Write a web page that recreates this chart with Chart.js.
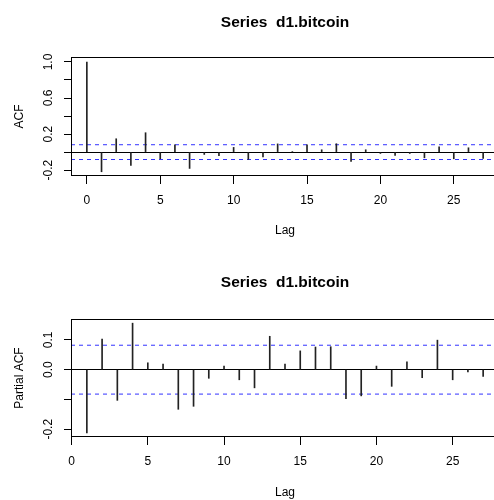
<!DOCTYPE html>
<html lang="en">
<head>
    <meta charset="UTF-8">
    <title>Series d1.bitcoin</title>
    <script src="https://cdn.jsdelivr.net/npm/chart.js@4.4.1/dist/chart.umd.min.js"></script>
    <style>
        html, body {margin: 0; padding: 0; background: #fff; overflow: hidden; width: 494px; height: 500px;}
        .panel {position: absolute; left: 0; width: 500px; height: 250px;}
    </style>
</head>
<body>
    <div class="panel" style="top:0"><canvas id="acfChart" width="500" height="250"></canvas></div>
    <div class="panel" style="top:250px"><canvas id="pacfChart" width="500" height="250"></canvas></div>

    <script>
        // values
        const seriesTitle = "Series  d1.bitcoin";
        const acfLags = [0, 1, 2, 3, 4, 5, 6, 7, 8, 9, 10, 11, 12, 13, 14, 15, 16, 17, 18, 19, 20, 21, 22, 23, 24, 25, 26, 27];
        const acfValues = [1.0, -0.218, 0.148, -0.148, 0.215, -0.074, 0.081, -0.181, -0.026, -0.040,
                           0.052, -0.081, -0.052, 0.091, 0.003, 0.081, 0.026, 0.093, -0.104, 0.026,
                           -0.015, -0.037, -0.015, -0.063, 0.059, -0.074, 0.048, -0.070];
        const pacfLags = [1, 2, 3, 4, 5, 6, 7, 8, 9, 10, 11, 12, 13, 14, 15, 16, 17, 18, 19, 20, 21, 22, 23, 24, 25, 26, 27];
        const pacfValues = [-0.212, 0.103, -0.103, 0.156, 0.023, 0.019, -0.133, -0.123, -0.029, 0.012,
                            -0.034, -0.061, 0.112, 0.019, 0.063, 0.076, 0.077, -0.097, -0.088, 0.012,
                            -0.056, 0.026, -0.027, 0.099, -0.034, -0.008, -0.023];
        const ciLimit = 0.082;

        const acfXRange = [-1.08, 28.08];
        const acfYRange = [-0.265, 1.055];
        const acfYTicks = ["-0.2", "0.2", "0.6", "1.0"];
        const pacfXRange = [-0.04, 28.04];
        const pacfYRange = [-0.226, 0.170];
        const pacfYTicks = ["-0.2", "0.0", "0.1"];
        const xStep = 5;

        Chart.defaults.font.family = "'Liberation Sans', Arial, sans-serif";
        Chart.defaults.font.size = 12;
        Chart.defaults.color = "#000";

        const boxPlugin = {
            id: "box",
            afterDraw(chart) {
                const a = chart.chartArea, c = chart.ctx;
                c.save();
                c.strokeStyle = "#000";
                c.lineWidth = 1;
                c.strokeRect(Math.round(a.left) + 0.5, Math.round(a.top) + 0.5,
                             Math.round(a.right - a.left), Math.round(a.bottom - a.top) - 1);
                c.restore();
            }
        };

        function ciLine(xRange, y) {
            return {
                type: "line",
                data: xRange.map(x => ({x: x, y: y})),
                borderColor: "rgba(0,0,255,0.8)",
                borderWidth: 1,
                borderDash: [4, 4],
                pointRadius: 0,
                fill: false
            };
        }

        function makeChart(id, lags, values, xRange, yRange, yStep, yLabels, yTitle, opts) {
            return new Chart(document.getElementById(id), {
                type: "bar",
                data: {
                    datasets: [
                        {data: lags.map((l, i) => ({x: l, y: values[i]})), backgroundColor: "#222", barThickness: 1},
                        ciLine(xRange, ciLimit),
                        ciLine(xRange, -ciLimit)
                    ]
                },
                options: {
                    responsive: false,
                    animation: false,
                    devicePixelRatio: 1,
                    layout: {padding: {left: 0, right: 1, top: 0, bottom: 0}},
                    plugins: {
                        legend: {display: false},
                        tooltip: {enabled: false},
                        title: {
                            display: true, text: seriesTitle, color: "#000", fullSize: false,
                            font: {size: 15.5, weight: "bold"},
                            padding: opts.titlePad
                        }
                    },
                    scales: {
                        x: {
                            type: "linear", offset: false,
                            min: xRange[0], max: xRange[1],
                            afterFit: s => { s.height = opts.xHeight; },
                            border: {display: false},
                            grid: {drawOnChartArea: false, offset: false, tickLength: 8, tickColor: "#000"},
                            ticks: {stepSize: xStep, includeBounds: false, padding: 9, maxRotation: 0,
                                    autoSkip: false, callback: v => String(v)},
                            title: {display: true, text: "Lag", padding: {top: 0, bottom: opts.lagPad}}
                        },
                        y: {
                            min: yRange[0], max: yRange[1],
                            afterFit: s => { s.width = 71; },
                            border: {display: false},
                            grid: {
                                tickLength: 7, tickColor: "#000",
                                color: c => (c.tick && Math.abs(c.tick.value) < 1e-9) ? "#000" : "rgba(0,0,0,0)"
                            },
                            ticks: {
                                stepSize: yStep, includeBounds: false, padding: 5, autoSkip: false,
                                minRotation: 90, maxRotation: 90, crossAlign: "center",
                                callback: v => {
                                    const t = (Math.abs(v) < 1e-9 ? 0 : v).toFixed(1);
                                    return yLabels.includes(t) ? t : "";
                                }
                            },
                            title: {display: true, text: yTitle, padding: {top: 12, bottom: 0}}
                        }
                    }
                },
                plugins: [boxPlugin]
            });
        }

        makeChart("acfChart", acfLags, acfValues, acfXRange, acfYRange, 0.2, acfYTicks, "ACF",
                  {titlePad: {top: 13, bottom: 25.4}, xHeight: 74, lagPad: 12});
        makeChart("pacfChart", pacfLags, pacfValues, pacfXRange, pacfYRange, 0.1, pacfYTicks, "Partial ACF",
                  {titlePad: {top: 23.4, bottom: 27}, xHeight: 63, lagPad: 0});
    </script>
</body>
</html>
